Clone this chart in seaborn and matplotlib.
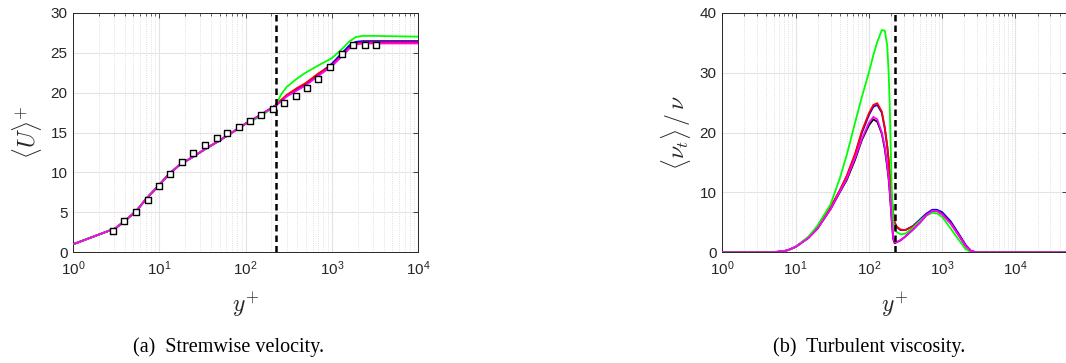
import numpy as np
import pandas as pd
import matplotlib
matplotlib.use("Agg")
import matplotlib.pyplot as plt
import seaborn as sns

# ---------------------------------------------------------------- data
# Mean streamwise velocity profiles, U+ against y+
yp_u = [1, 3.1, 4, 5.4, 7, 10, 13, 17, 25, 35, 50, 70, 100, 150, 224,
        260, 300, 400, 500, 700, 1000, 1300, 1600, 1900, 2300, 3000, 10000]
u_black = [1.0, 3.0, 3.95, 5.15, 6.65, 8.45, 9.8, 10.9, 12.0, 13.0, 14.0, 15.0, 16.1, 17.2, 18.4,
           19.0, 19.6, 20.4, 21.0, 22.2, 23.4, 24.7, 25.7, 26.2, 26.3, 26.3, 26.3]
u_blue = [1.0, 3.0, 3.95, 5.15, 6.65, 8.45, 9.8, 10.9, 12.0, 13.0, 14.0, 15.0, 16.1, 17.2, 18.4,
          19.0, 19.6, 20.4, 21.1, 22.3, 23.6, 24.9, 25.9, 26.35, 26.45, 26.45, 26.45]
u_red = [1.0, 3.0, 3.95, 5.15, 6.65, 8.45, 9.8, 10.9, 12.0, 13.0, 14.0, 15.0, 16.1, 17.2, 18.4,
         19.1, 19.7, 20.6, 21.2, 22.4, 23.4, 24.6, 25.6, 26.1, 26.3, 26.3, 26.3]
u_green = [1.0, 3.0, 3.95, 5.15, 6.65, 8.45, 9.8, 10.9, 12.0, 13.0, 14.0, 15.0, 16.1, 17.0, 18.4,
           19.8, 20.7, 21.8, 22.5, 23.4, 24.3, 25.4, 26.4, 26.95, 27.1, 27.1, 27.0]
u_magenta = [1.0, 3.0, 3.95, 5.15, 6.65, 8.45, 9.8, 10.9, 12.0, 13.0, 14.0, 15.0, 16.1, 17.2, 18.4,
             18.9, 19.5, 20.3, 20.9, 22.1, 23.3, 24.5, 25.5, 26.0, 26.15, 26.15, 26.15]

# Reference DNS velocity samples
yp_dns = [2.94, 3.94, 5.38, 7.35, 9.86, 13.5, 18.2, 24.9, 34.0, 46.5, 61.7, 83.6,
          113, 153, 211, 283, 383, 523, 701, 958, 1310, 1787, 2400, 3275]
u_dns = [2.63, 3.87, 5.08, 6.58, 8.29, 9.79, 11.29, 12.46, 13.46, 14.37, 15.0, 15.71,
         16.5, 17.2, 17.96, 18.7, 19.58, 20.6, 21.67, 23.2, 24.8, 25.96, 25.96, 25.96]

# Turbulent viscosity ratio profiles, <nu_t>/nu against y+
yp_nu = [1, 3, 5, 7, 8, 10, 15, 20, 30, 40, 50, 65, 80, 100, 115, 130, 150, 165, 178, 186,
         192, 198, 205, 215, 225, 240, 270, 312, 400, 500, 600, 730, 850, 1000, 1300,
         1700, 2100, 2500, 3000, 10000, 50000]
nu_black = [0, 0, 0.02, 0.2, 0.4, 0.9, 2.4, 4.0, 7.2, 10.0, 12.1, 15.5, 18.7, 21.2, 22.2, 21.8,
            19.8, 17.2, 14.2, 12.2, 10.2, 7.9, 5.2, 2.2, 1.5, 1.7, 2.0, 2.6, 3.8, 5.0,
            6.1, 6.9, 6.95, 6.4, 4.9, 2.8, 1.0, 0.15, 0, 0, 0]
nu_blue = [0, 0, 0.02, 0.2, 0.4, 0.9, 2.5, 4.2, 7.5, 10.3, 12.7, 16.3, 19.9, 22.9, 24.3, 24.6,
           23.3, 20.6, 17.6, 15.3, 13.0, 11.3, 8.8, 6.3, 4.9, 4.2, 3.7, 3.7, 4.4, 5.5,
           6.4, 7.1, 7.1, 6.7, 5.2, 3.0, 1.2, 0.2, 0, 0, 0]
nu_red = [0, 0, 0.02, 0.2, 0.4, 0.9, 2.5, 4.2, 7.5, 10.3, 12.8, 16.5, 20.2, 23.2, 24.6, 24.9,
          23.5, 20.8, 17.8, 15.5, 13.2, 11.5, 9.0, 6.5, 5.0, 4.3, 3.8, 3.7, 4.3, 5.3,
          6.2, 6.9, 6.9, 6.4, 4.9, 2.8, 1.0, 0.15, 0, 0, 0]
nu_green = [0, 0, 0.02, 0.2, 0.4, 0.9, 2.6, 4.5, 8.0, 12.3, 16.3, 21.7, 25.9, 30.0, 32.9, 35.1,
            37.1, 37.0, 34.5, 30.0, 25.0, 18.0, 10.5, 5.2, 3.8, 3.4, 3.0, 3.1, 4.1, 5.3,
            6.1, 6.6, 6.5, 5.9, 4.0, 2.0, 0.5, 0, 0, 0, 0]
nu_magenta = [0, 0, 0.02, 0.2, 0.4, 0.9, 2.4, 4.0, 7.2, 10.1, 12.3, 15.8, 18.9, 21.6, 22.6, 22.2,
              20.0, 17.5, 14.5, 12.5, 10.5, 8.2, 5.5, 2.3, 1.6, 1.7, 2.0, 2.6, 3.8, 5.0,
              6.1, 6.9, 6.9, 6.3, 4.8, 2.7, 1.0, 0.15, 0, 0, 0]

case_names = ["k1", "k2", "k3", "k4", "k5"]
case_colors = ["#000000", "#0000ff", "#ff0000", "#00ff00", "#ff00ff"]
y_interface = 225

# ---------------------------------------------------------------- tables
u_df = pd.concat(
    [pd.DataFrame({"y": yp_u, "v": vals, "case": name})
     for name, vals in zip(case_names, [u_black, u_blue, u_red, u_green, u_magenta])],
    ignore_index=True)
nu_df = pd.concat(
    [pd.DataFrame({"y": yp_nu, "v": vals, "case": name})
     for name, vals in zip(case_names, [nu_black, nu_blue, nu_red, nu_green, nu_magenta])],
    ignore_index=True)
dns_df = pd.DataFrame({"y": yp_dns, "v": u_dns})
palette = dict(zip(case_names, case_colors))

# ---------------------------------------------------------------- style
sns.set_theme(style="white")
plt.rcParams.update({
    "font.family": ["Liberation Sans", "DejaVu Sans"],
    "mathtext.fontset": "custom",
    "mathtext.rm": "Liberation Sans",
    "mathtext.it": "Liberation Sans:italic",
    "axes.edgecolor": "#262626",
    "axes.linewidth": 0.7,
})

W, H = 1066, 363
fig = plt.figure(figsize=(W / 100, H / 100), dpi=100)
ax1 = fig.add_axes([73 / W, (H - 252.3) / H, 345 / W, 239.6 / H])
ax2 = fig.add_axes([722.3 / W, (H - 252.3) / H, 344.4 / W, 239.6 / H])


def style_axes(ax, xmax, ymax, ystep):
    ax.set_xscale("log")
    ax.set_xlim(1, xmax)
    ax.set_ylim(0, ymax)
    ax.set_yticks(np.arange(0, ymax + 0.1, ystep))
    ax.set_xticks([1, 10, 100, 1000, 10000])
    ax.grid(which="major", color="#e3e3e3", lw=0.8, ls="-")
    ax.grid(which="minor", axis="x", color="#d6d6d6", lw=0.6, ls=":")
    ax.set_axisbelow(True)
    ax.tick_params(which="both", direction="in", top=True, right=True,
                   colors="#262626", labelsize=11)
    ax.tick_params(which="major", length=3.5, width=0.6)
    ax.tick_params(which="minor", length=2, width=0.5)
    ax.tick_params(axis="x", which="major", pad=5)
    ax.tick_params(axis="y", which="major", pad=4)
    for sp in ax.spines.values():
        sp.set_visible(True)
        sp.set_color("#262626")
    ax.axvline(y_interface, color="black", lw=1.8, ls=(0, (2.6, 1.6)), zorder=4)


# ---- (a) velocity
sns.lineplot(data=u_df, x="y", y="v", hue="case", palette=palette, sort=False,
             estimator=None, lw=1.3, legend=False, ax=ax1, zorder=3)
sns.scatterplot(data=dns_df, x="y", y="v", marker="s", s=14, facecolor="white",
                edgecolor="black", linewidth=1.0, ax=ax1, zorder=5)
style_axes(ax1, 1e4, 30, 5)
ax1.set_xlabel(r"$y^{+}$", fontsize=17, math_fontfamily="cm", labelpad=9)
ax1.set_ylabel(r"$\langle U\rangle^{+}$", fontsize=17, math_fontfamily="cm", labelpad=5)

# ---- (b) turbulent viscosity
sns.lineplot(data=nu_df, x="y", y="v", hue="case", palette=palette, sort=False,
             estimator=None, lw=1.3, legend=False, ax=ax2, zorder=3)
style_axes(ax2, 5e4, 40, 10)
ax2.set_xlabel(r"$y^{+}$", fontsize=17, math_fontfamily="cm", labelpad=9)
ax2.set_ylabel(r"$\langle\nu_t\rangle\,/\,\nu$", fontsize=17, math_fontfamily="cm", labelpad=5)

fig.text(229 / W, 1 - 347 / H, "(a)  Stremwise velocity.", ha="center", va="center",
         family="Liberation Serif", fontsize=14.5, color="black")
fig.text(869 / W, 1 - 347 / H, "(b)  Turbulent viscosity.", ha="center", va="center",
         family="Liberation Serif", fontsize=14.5, color="black")

fig.savefig("out.png", dpi=100)
